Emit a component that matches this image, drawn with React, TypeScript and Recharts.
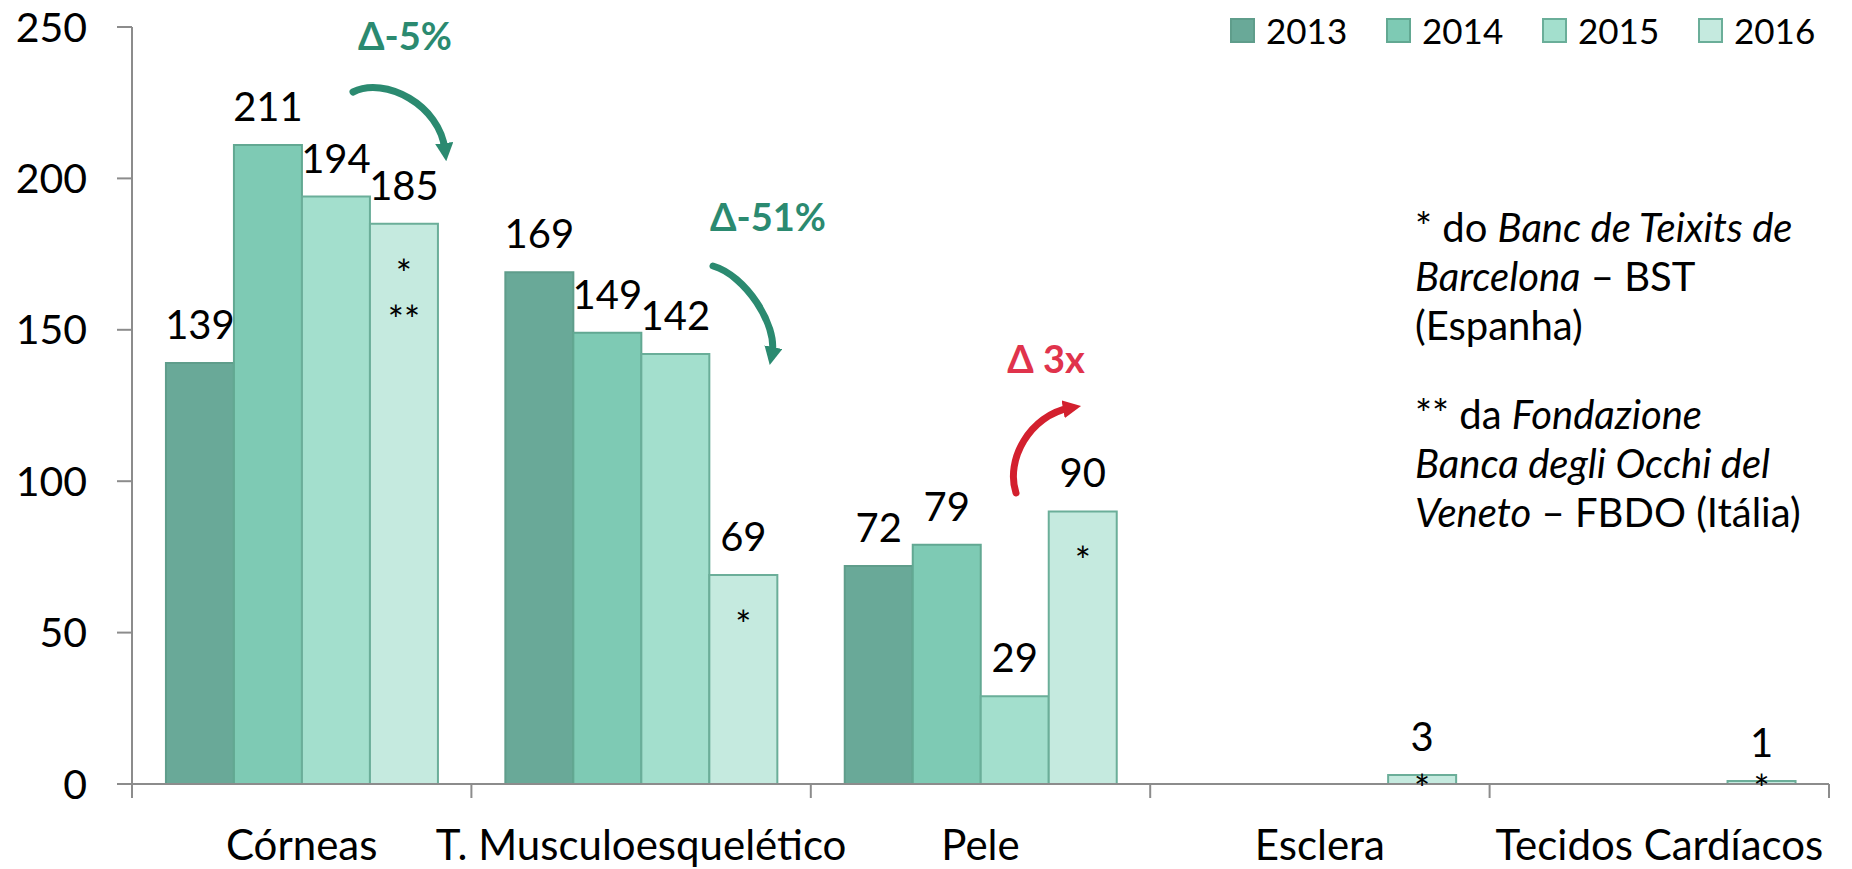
import React from "react";
import { BarChart, Bar, XAxis, YAxis, LabelList } from "recharts";

const categories = ["Córneas", "T. Musculoesquelético", "Pele", "Esclera", "Tecidos Cardíacos"];
const years = ["2013", "2014", "2015", "2016"];
const v2013 = [139, 169, 72, null, null];
const v2014 = [211, 149, 79, null, null];
const v2015 = [194, 142, 29, null, null];
const v2016 = [185, 69, 90, 3, 1];
const notes2016 = ["*|**", "*", "*", "*", "*"];
const yTicks = [0, 50, 100, 150, 200, 250];

const fills = ["#69a998", "#7ecab4", "#a3dfcd", "#c5eadf"];
const strokes = ["#5f9d8b", "#62a892", "#6aae99", "#6bae99"];

const data = categories.map((name, i) => ({
  name,
  y2013: v2013[i],
  y2014: v2014[i],
  y2015: v2015[i],
  y2016: v2016[i],
  note: notes2016[i],
}));

const W = 1852;
const H = 869;
const PLOT = { left: 132, right: 1829, top: 27, bottom: 784 };
const band = (PLOT.right - PLOT.left) / categories.length;

const FONT = "Lato, 'Open Sans', sans-serif";
const GREEN = "#2b8a70";
const RED = "#d3202e";

const CatTick = (props: any) => {
  const { x, payload } = props;
  const idx = categories.indexOf(payload.value);
  const half = band / 2;
  return (
    <g>
      <line x1={x - half} x2={x - half} y1={PLOT.bottom} y2={PLOT.bottom + 14} stroke="#8c8c8c" strokeWidth={2} />
      {idx === categories.length - 1 && (
        <line x1={x + half} x2={x + half} y1={PLOT.bottom} y2={PLOT.bottom + 14} stroke="#8c8c8c" strokeWidth={2} />
      )}
      <text x={x} y={860} textAnchor="middle" fontSize={42} fill="#000" fontFamily={FONT}>
        {payload.value}
      </text>
    </g>
  );
};

// asterisks drawn inside the 2016 bars
const NoteLabel = (props: any) => {
  const { x, y, width, value } = props;
  if (!value) return null;
  const lines = String(value).split("|");
  const cx = x + width / 2;
  const base = Math.min(y + 64, PLOT.bottom + 19);
  return (
    <g>
      {lines.map((l, i) => (
        <text key={i} x={cx} y={base + i * 46} textAnchor="middle" fontSize={38} fill="#000" fontFamily={FONT}>
          {l}
        </text>
      ))}
    </g>
  );
};

const fmt = (v: any) => (v == null ? "" : v);

export default function App() {
  const keys = ["y2013", "y2014", "y2015", "y2016"];
  return (
    <div style={{ position: "absolute", left: 0, top: 0, width: W, height: H, background: "#fff", fontFamily: FONT }}>
      <BarChart
        width={W}
        height={H}
        data={data}
        margin={{ top: PLOT.top, right: W - PLOT.right, bottom: 0, left: 0 }}
        barCategoryGap="10%"
        barGap={0}
      >
        <XAxis
          dataKey="name"
          height={H - PLOT.bottom}
          axisLine={{ stroke: "#8c8c8c", strokeWidth: 2 }}
          tickLine={false}
          tick={<CatTick />}
          interval={0}
        />
        <YAxis
          width={PLOT.left}
          domain={[0, 250]}
          ticks={yTicks}
          interval={0}
          tickSize={15}
          tickMargin={30}
          axisLine={{ stroke: "#8c8c8c", strokeWidth: 2 }}
          tickLine={{ stroke: "#8c8c8c", strokeWidth: 2 }}
          tick={{ fontSize: 41, fill: "#000", fontFamily: FONT }}
        />
        {keys.map((k, i) => (
          <Bar key={k} dataKey={k} fill={fills[i]} stroke={strokes[i]} strokeWidth={2} isAnimationActive={false}>
            <LabelList
              dataKey={k}
              position="top"
              offset={24}
              formatter={fmt}
              style={{ fontSize: 40, fill: "#000", fontFamily: FONT }}
            />
            {k === "y2016" && <LabelList dataKey="note" content={<NoteLabel />} />}
          </Bar>
        ))}
      </BarChart>

      <svg width={W} height={H} style={{ position: "absolute", left: 0, top: 0, pointerEvents: "none" }}>
        <defs>
          <marker id="hg" markerWidth="2.6" markerHeight="2.6" refX="1" refY="1.3" orient="auto" markerUnits="strokeWidth">
            <path d="M0,0 L2.6,1.3 L0,2.6 z" fill={GREEN} />
          </marker>
          <marker id="hr" markerWidth="2.6" markerHeight="2.6" refX="1" refY="1.3" orient="auto" markerUnits="strokeWidth">
            <path d="M0,0 L2.6,1.3 L0,2.6 z" fill={RED} />
          </marker>
        </defs>
        <path
          d="M353,92 C385,76 440,105 445,150"
          stroke={GREEN}
          strokeWidth={7}
          fill="none"
          strokeLinecap="round"
          markerEnd="url(#hg)"
        />
        <path
          d="M713,266 C745,275 778,325 772,354"
          stroke={GREEN}
          strokeWidth={7}
          fill="none"
          strokeLinecap="round"
          markerEnd="url(#hg)"
        />
        <path
          d="M1016,493 C1005,460 1030,415 1070,408"
          stroke={RED}
          strokeWidth={7}
          fill="none"
          strokeLinecap="round"
          markerEnd="url(#hr)"
        />
        <text x={405} y={50} textAnchor="middle" fontSize={38} fontWeight={700} fill={GREEN} fontFamily={FONT}>
          Δ-5%
        </text>
        <text x={768} y={231} textAnchor="middle" fontSize={38} fontWeight={700} fill={GREEN} fontFamily={FONT}>
          Δ-51%
        </text>
        <text x={1046} y={373} textAnchor="middle" fontSize={38} fontWeight={700} fill="#e0334c" fontFamily={FONT}>
          Δ 3x
        </text>
      </svg>

      <div style={{ position: "absolute", left: 1226, top: 10, display: "flex", gap: 0 }}>
        {years.map((y, i) => (
          <div key={y} style={{ display: "flex", alignItems: "center", width: 156, fontSize: 35, lineHeight: "40px" }}>
            <span
              style={{
                display: "inline-block",
                width: 21,
                height: 21,
                background: fills[i],
                border: `2px solid ${strokes[i]}`,
                marginRight: 11,
                marginLeft: 4,
              }}
            />
            {y}
          </div>
        ))}
      </div>

      <div style={{ position: "absolute", left: 1415, top: 203, fontSize: 40, lineHeight: "49px", color: "#000" }}>
        <div>
          * do <i>Banc de Teixits de</i>
          <br />
          <i>Barcelona</i> – BST
          <br />
          (Espanha)
        </div>
        <div style={{ marginTop: 40 }}>
          ** da <i>Fondazione</i>
          <br />
          <i>Banca degli Occhi del</i>
          <br />
          <i>Veneto</i> – FBDO (Itália)
        </div>
      </div>
    </div>
  );
}
